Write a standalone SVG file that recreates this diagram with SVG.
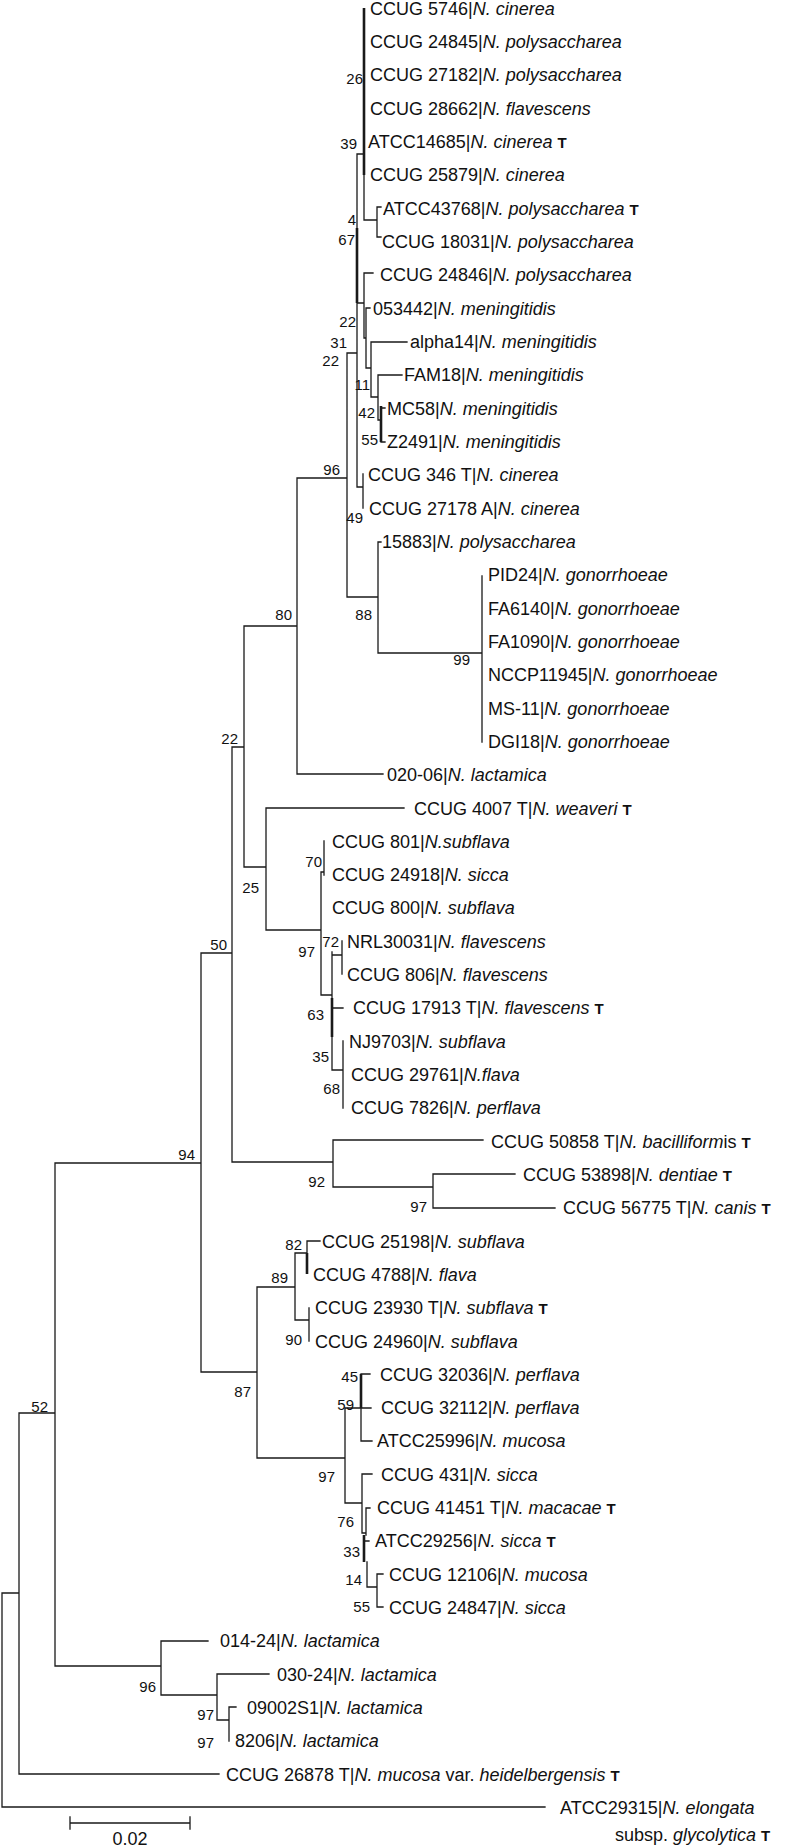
<svg xmlns="http://www.w3.org/2000/svg" width="787" height="1847" viewBox="0 0 787 1847">
<style>
.br{fill:none;stroke:#1a1a1a;stroke-width:1.3;stroke-linecap:square}
.tk{fill:none;stroke:#1a1a1a;stroke-width:2.6}
.t{font-family:"Liberation Sans",Arial,sans-serif;font-size:18px;fill:#111}
.b{font-family:"Liberation Sans",Arial,sans-serif;font-size:15px;fill:#111;text-anchor:end}
.i{font-style:italic}
.bt{font-weight:bold;font-size:15px}
</style>
<rect width="787" height="1847" fill="#fff"/>
<g id="branches">
<path class="br" d="M364 175V220M357 154H364M364 220H377M377 207V237M377 207H381M377 237H381M357 154V228M357 303V487M357 303H364M364 273V338M364 273H373M364 338H366M366 308V368M366 308H370M366 368H371M371 342V397M371 342H407M371 397H378M378 375V420M378 375H402M378 420H381M381 408H385M381 442H385M357 487H363M363 474V508M347 353H357M347 353V597M297 478H347M347 597H378M378 542V653M378 542H381M378 653H482M482 576V742M297 478V774M297 774H383M244 626H297M244 626V867M233 747H244M244 867H266M266 808V930M266 808H404M266 930H321M321 872V995M321 872H324M324 841V875M332 952V998M332 1037V1070M321 995H332M332 955H342M342 941V974M332 1008H343M332 1070H343M343 1041V1108M232 747V1162M201 953H232M232 1162H333M333 1140V1187M333 1140H483M333 1187H433M433 1174V1208M433 1174H515M433 1208H555M201 953V1372M201 1372H257M257 1287V1458M257 1287H295M295 1253V1320M295 1253H307M307 1241V1253M307 1241H320M295 1320H309M309 1308V1341M257 1458H345M345 1408V1503M345 1408H361M361 1408V1441M361 1374H370M361 1408H371M361 1441H372M345 1503H362M362 1474V1533M362 1474H372M362 1533H366M366 1508V1535M366 1508H370M364 1541H369M367 1562V1587M367 1587H377M377 1574V1607M377 1574H383M377 1607H383M55 1163H201M55 1163V1666M55 1666H161M161 1641V1695M161 1641H208M161 1695H217M217 1674V1720M217 1674H269M217 1720H229M229 1707V1741M229 1707H236M19 1413H55M19 1413V1774M19 1774H219M2 1593H19M2 1593V1807M2 1807H545"/>
<path class="tk" d="M364 8V175M357 228V303M381 406V442M332 998V1037M307 1253V1274M361 1374V1408M364 1535V1562"/>
</g>
<g id="scale-bar">
<path class="br" d="M70 1823H190M70 1817V1829M190 1817V1829"/>
<text class="t" x="130" y="1845" text-anchor="middle" font-size="16">0.02</text>
</g>
<g id="bootstrap">
<text class="b" x="363" y="84">26</text>
<text class="b" x="357" y="149">39</text>
<text class="b" x="356" y="225">4</text>
<text class="b" x="355" y="245">67</text>
<text class="b" x="356" y="327">22</text>
<text class="b" x="347" y="348">31</text>
<text class="b" x="339" y="366">22</text>
<text class="b" x="370" y="390">11</text>
<text class="b" x="375" y="418">42</text>
<text class="b" x="378" y="445">55</text>
<text class="b" x="340" y="475">96</text>
<text class="b" x="363" y="523">49</text>
<text class="b" x="372" y="620">88</text>
<text class="b" x="292" y="620">80</text>
<text class="b" x="470" y="665">99</text>
<text class="b" x="238" y="744">22</text>
<text class="b" x="322" y="867">70</text>
<text class="b" x="259" y="893">25</text>
<text class="b" x="315" y="957">97</text>
<text class="b" x="339" y="947">72</text>
<text class="b" x="227" y="950">50</text>
<text class="b" x="324" y="1020">63</text>
<text class="b" x="329" y="1062">35</text>
<text class="b" x="340" y="1094">68</text>
<text class="b" x="195" y="1160">94</text>
<text class="b" x="325" y="1187">92</text>
<text class="b" x="427" y="1212">97</text>
<text class="b" x="302" y="1250">82</text>
<text class="b" x="288" y="1283">89</text>
<text class="b" x="302" y="1345">90</text>
<text class="b" x="358" y="1382">45</text>
<text class="b" x="251" y="1397">87</text>
<text class="b" x="354" y="1410">59</text>
<text class="b" x="48" y="1412">52</text>
<text class="b" x="335" y="1482">97</text>
<text class="b" x="354" y="1527">76</text>
<text class="b" x="360" y="1557">33</text>
<text class="b" x="362" y="1585">14</text>
<text class="b" x="370" y="1612">55</text>
<text class="b" x="156" y="1692">96</text>
<text class="b" x="214" y="1720">97</text>
<text class="b" x="214" y="1748">97</text>
</g>
<g id="leaf-1"><text class="t" x="370" y="15">CCUG 5746|<tspan class="i">N. cinerea</tspan></text></g>
<g id="leaf-2"><text class="t" x="370" y="48">CCUG 24845|<tspan class="i">N. polysaccharea</tspan></text></g>
<g id="leaf-3"><text class="t" x="370" y="81">CCUG 27182|<tspan class="i">N. polysaccharea</tspan></text></g>
<g id="leaf-4"><text class="t" x="370" y="115">CCUG 28662|<tspan class="i">N. flavescens</tspan></text></g>
<g id="leaf-5"><text class="t" x="368" y="148">ATCC14685|<tspan class="i">N. cinerea</tspan> <tspan class="bt">T</tspan></text></g>
<g id="leaf-6"><text class="t" x="370" y="181">CCUG 25879|<tspan class="i">N. cinerea</tspan></text></g>
<g id="leaf-7"><text class="t" x="383" y="215">ATCC43768|<tspan class="i">N. polysaccharea</tspan> <tspan class="bt">T</tspan></text></g>
<g id="leaf-8"><text class="t" x="382" y="248">CCUG 18031|<tspan class="i">N. polysaccharea</tspan></text></g>
<g id="leaf-9"><text class="t" x="380" y="281">CCUG 24846|<tspan class="i">N. polysaccharea</tspan></text></g>
<g id="leaf-10"><text class="t" x="373" y="315">053442|<tspan class="i">N. meningitidis</tspan></text></g>
<g id="leaf-11"><text class="t" x="410" y="348">alpha14|<tspan class="i">N. meningitidis</tspan></text></g>
<g id="leaf-12"><text class="t" x="404" y="381">FAM18|<tspan class="i">N. meningitidis</tspan></text></g>
<g id="leaf-13"><text class="t" x="387" y="415">MC58|<tspan class="i">N. meningitidis</tspan></text></g>
<g id="leaf-14"><text class="t" x="387" y="448">Z2491|<tspan class="i">N. meningitidis</tspan></text></g>
<g id="leaf-15"><text class="t" x="368" y="481">CCUG 346 T|<tspan class="i">N. cinerea</tspan></text></g>
<g id="leaf-16"><text class="t" x="369" y="515">CCUG 27178 A|<tspan class="i">N. cinerea</tspan></text></g>
<g id="leaf-17"><text class="t" x="382" y="548">15883|<tspan class="i">N. polysaccharea</tspan></text></g>
<g id="leaf-18"><text class="t" x="488" y="581">PID24|<tspan class="i">N. gonorrhoeae</tspan></text></g>
<g id="leaf-19"><text class="t" x="488" y="615">FA6140|<tspan class="i">N. gonorrhoeae</tspan></text></g>
<g id="leaf-20"><text class="t" x="488" y="648">FA1090|<tspan class="i">N. gonorrhoeae</tspan></text></g>
<g id="leaf-21"><text class="t" x="488" y="681">NCCP11945|<tspan class="i">N. gonorrhoeae</tspan></text></g>
<g id="leaf-22"><text class="t" x="488" y="715">MS-11|<tspan class="i">N. gonorrhoeae</tspan></text></g>
<g id="leaf-23"><text class="t" x="488" y="748">DGI18|<tspan class="i">N. gonorrhoeae</tspan></text></g>
<g id="leaf-24"><text class="t" x="387" y="781">020-06|<tspan class="i">N. lactamica</tspan></text></g>
<g id="leaf-25"><text class="t" x="414" y="815">CCUG 4007 T|<tspan class="i">N. weaveri</tspan> <tspan class="bt">T</tspan></text></g>
<g id="leaf-26"><text class="t" x="332" y="848">CCUG 801|<tspan class="i">N.subflava</tspan></text></g>
<g id="leaf-27"><text class="t" x="332" y="881">CCUG 24918|<tspan class="i">N. sicca</tspan></text></g>
<g id="leaf-28"><text class="t" x="332" y="914">CCUG 800|<tspan class="i">N. subflava</tspan></text></g>
<g id="leaf-29"><text class="t" x="347" y="948">NRL30031|<tspan class="i">N. flavescens</tspan></text></g>
<g id="leaf-30"><text class="t" x="347" y="981">CCUG 806|<tspan class="i">N. flavescens</tspan></text></g>
<g id="leaf-31"><text class="t" x="353" y="1014">CCUG 17913 T|<tspan class="i">N. flavescens</tspan> <tspan class="bt">T</tspan></text></g>
<g id="leaf-32"><text class="t" x="349" y="1048">NJ9703|<tspan class="i">N. subflava</tspan></text></g>
<g id="leaf-33"><text class="t" x="351" y="1081">CCUG 29761|<tspan class="i">N.flava</tspan></text></g>
<g id="leaf-34"><text class="t" x="351" y="1114">CCUG 7826|<tspan class="i">N. perflava</tspan></text></g>
<g id="leaf-35"><text class="t" x="491" y="1148">CCUG 50858 T|<tspan class="i">N. bacilliform</tspan>is <tspan class="bt">T</tspan></text></g>
<g id="leaf-36"><text class="t" x="523" y="1181">CCUG 53898|<tspan class="i">N. dentiae</tspan> <tspan class="bt">T</tspan></text></g>
<g id="leaf-37"><text class="t" x="563" y="1214">CCUG 56775 T|<tspan class="i">N. canis</tspan> <tspan class="bt">T</tspan></text></g>
<g id="leaf-38"><text class="t" x="322" y="1248">CCUG 25198|<tspan class="i">N. subflava</tspan></text></g>
<g id="leaf-39"><text class="t" x="313" y="1281">CCUG 4788|<tspan class="i">N. flava</tspan></text></g>
<g id="leaf-40"><text class="t" x="315" y="1314">CCUG 23930 T|<tspan class="i">N. subflava</tspan> <tspan class="bt">T</tspan></text></g>
<g id="leaf-41"><text class="t" x="315" y="1348">CCUG 24960|<tspan class="i">N. subflava</tspan></text></g>
<g id="leaf-42"><text class="t" x="380" y="1381">CCUG 32036|<tspan class="i">N. perflava</tspan></text></g>
<g id="leaf-43"><text class="t" x="381" y="1414">CCUG 32112|<tspan class="i">N. perflava</tspan></text></g>
<g id="leaf-44"><text class="t" x="377" y="1447">ATCC25996|<tspan class="i">N. mucosa</tspan></text></g>
<g id="leaf-45"><text class="t" x="381" y="1481">CCUG 431|<tspan class="i">N. sicca</tspan></text></g>
<g id="leaf-46"><text class="t" x="377" y="1514">CCUG 41451 T|<tspan class="i">N. macacae</tspan> <tspan class="bt">T</tspan></text></g>
<g id="leaf-47"><text class="t" x="375" y="1547">ATCC29256|<tspan class="i">N. sicca</tspan> <tspan class="bt">T</tspan></text></g>
<g id="leaf-48"><text class="t" x="389" y="1581">CCUG 12106|<tspan class="i">N. mucosa</tspan></text></g>
<g id="leaf-49"><text class="t" x="389" y="1614">CCUG 24847|<tspan class="i">N. sicca</tspan></text></g>
<g id="leaf-50"><text class="t" x="220" y="1647">014-24|<tspan class="i">N. lactamica</tspan></text></g>
<g id="leaf-51"><text class="t" x="277" y="1681">030-24|<tspan class="i">N. lactamica</tspan></text></g>
<g id="leaf-52"><text class="t" x="247" y="1714">09002S1|<tspan class="i">N. lactamica</tspan></text></g>
<g id="leaf-53"><text class="t" x="235" y="1747">8206|<tspan class="i">N. lactamica</tspan></text></g>
<g id="leaf-54"><text class="t" x="226" y="1781">CCUG 26878 T|<tspan class="i">N. mucosa</tspan> var. <tspan class="i">heidelbergensis</tspan> <tspan class="bt">T</tspan></text></g>
<g id="leaf-55"><text class="t" x="560" y="1814">ATCC29315|<tspan class="i">N. elongata</tspan></text><text class="t" x="615" y="1841">subsp. <tspan class="i">glycolytica</tspan> <tspan class="bt">T</tspan></text></g>
</svg>
